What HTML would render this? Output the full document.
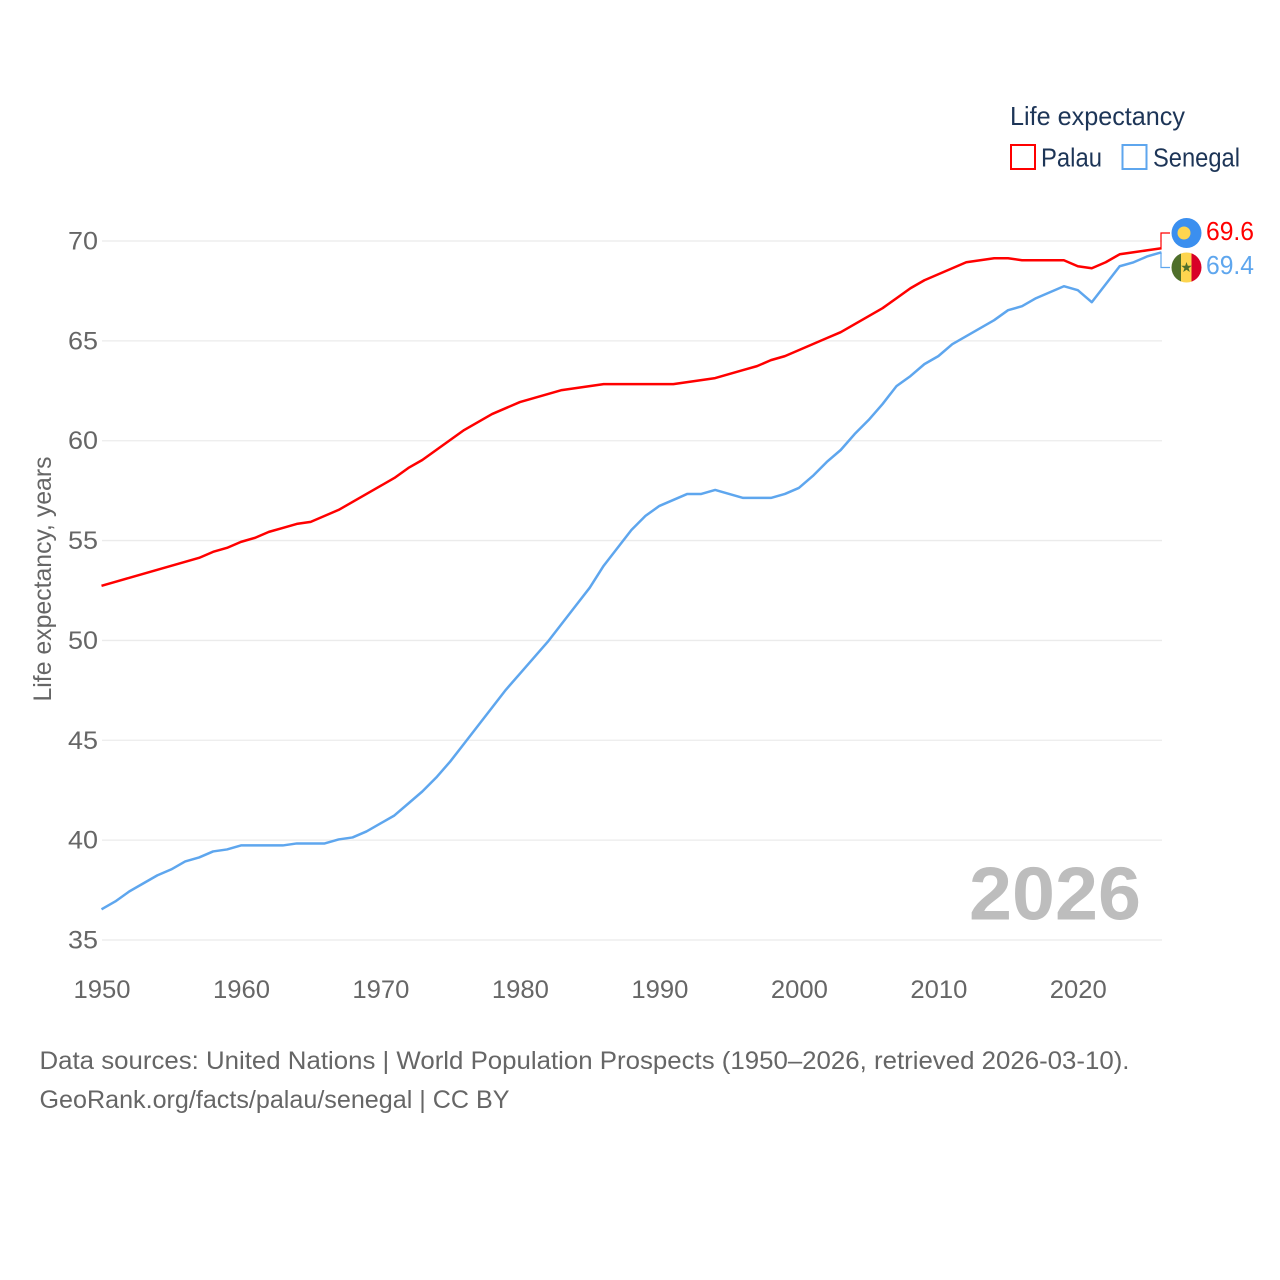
<!DOCTYPE html>
<html lang="en">
<head>
<meta charset="utf-8">
<title>Life expectancy: Palau and Senegal</title>
<style>
html,body{margin:0;padding:0;background:#fff;width:1280px;height:1280px;overflow:hidden}
svg{display:block}
text{font-family:"Liberation Sans",sans-serif}
</style>
</head>
<body>
<svg id="chart" xmlns="http://www.w3.org/2000/svg" width="1280" height="1280" viewBox="0 0 1280 1280">
  <g id="grid"></g>
  <g id="yticks"></g>
  <g id="xticks"></g>
  <text transform="translate(51,579) rotate(-90)" text-anchor="middle" font-size="25" fill="#666" textLength="245" lengthAdjust="spacingAndGlyphs">Life expectancy, years</text>
  <text x="969" y="919.500" font-size="75" font-weight="700" fill="#bdbdbd" textLength="172" lengthAdjust="spacingAndGlyphs">2026</text>
  <g id="series" transform="translate(-0.5,-0.7)"></g>
  <g id="ends"></g>

  <g>
    <text x="1010" y="125" font-size="26" fill="#1d3557" textLength="175" lengthAdjust="spacingAndGlyphs">Life expectancy</text>
    <rect x="1011" y="145" width="24" height="24" fill="none" stroke="#ff0000" stroke-width="2"/>
    <text x="1041" y="166.500" font-size="25.500" fill="#1d3557" textLength="61" lengthAdjust="spacingAndGlyphs">Palau</text>
    <rect x="1122.500" y="145" width="24" height="24" fill="none" stroke="#5ea6ee" stroke-width="2"/>
    <text x="1153" y="166.500" font-size="25.500" fill="#1d3557" textLength="87" lengthAdjust="spacingAndGlyphs">Senegal</text>
  </g>

  <g>
    <text x="39.500" y="1069" font-size="25" fill="#666" textLength="1090" lengthAdjust="spacingAndGlyphs">Data sources: United Nations | World Population Prospects (1950–2026, retrieved 2026-03-10).</text>
    <text x="39.500" y="1108" font-size="25" fill="#666" textLength="470" lengthAdjust="spacingAndGlyphs">GeoRank.org/facts/palau/senegal | CC BY</text>
  </g>

  <defs>
    <clipPath id="sn-clip"><circle cx="1186.500" cy="267.500" r="15"/></clipPath>
  </defs>
  <g>
    <circle cx="1186.500" cy="233" r="15" fill="#3b8fef"/>
    <circle cx="1184" cy="233" r="6.500" fill="#fdd54f"/>
  </g>
  <g clip-path="url(#sn-clip)">
    <rect x="1171" y="252" width="10.500" height="31" fill="#4f6f2b"/>
    <rect x="1181" y="252" width="11" height="31" fill="#fdd54f"/>
    <rect x="1191.500" y="252" width="11" height="31" fill="#d80027"/>
    <polygon points="1186.500,262 1187.800,265.800 1191.800,265.800 1188.600,268.200 1189.800,272 1186.500,269.700 1183.200,272 1184.400,268.200 1181.200,265.800 1185.200,265.800" fill="#4f6f2b"/>
  </g>

  <script>
    var years = [1950,1951,1952,1953,1954,1955,1956,1957,1958,1959,1960,1961,1962,1963,1964,1965,1966,1967,1968,1969,1970,1971,1972,1973,1974,1975,1976,1977,1978,1979,1980,1981,1982,1983,1984,1985,1986,1987,1988,1989,1990,1991,1992,1993,1994,1995,1996,1997,1998,1999,2000,2001,2002,2003,2004,2005,2006,2007,2008,2009,2010,2011,2012,2013,2014,2015,2016,2017,2018,2019,2020,2021,2022,2023,2024,2025,2026];
    var palauValues = [52.7,52.9,53.1,53.3,53.5,53.7,53.9,54.1,54.4,54.6,54.9,55.1,55.4,55.6,55.8,55.9,56.2,56.5,56.9,57.3,57.7,58.1,58.6,59.0,59.5,60.0,60.5,60.9,61.3,61.6,61.9,62.1,62.3,62.5,62.6,62.7,62.8,62.8,62.8,62.8,62.8,62.8,62.9,63.0,63.1,63.3,63.5,63.7,64.0,64.2,64.5,64.8,65.1,65.4,65.8,66.2,66.6,67.1,67.6,68.0,68.3,68.6,68.9,69.0,69.1,69.1,69.0,69.0,69.0,69.0,68.7,68.6,68.9,69.3,69.4,69.5,69.6];
    var senegalValues = [36.5,36.9,37.4,37.8,38.2,38.5,38.9,39.1,39.4,39.5,39.7,39.7,39.7,39.7,39.8,39.8,39.8,40.0,40.1,40.4,40.8,41.2,41.8,42.4,43.1,43.9,44.8,45.7,46.6,47.5,48.3,49.1,49.9,50.8,51.7,52.6,53.7,54.6,55.5,56.2,56.7,57.0,57.3,57.3,57.5,57.3,57.1,57.1,57.1,57.3,57.6,58.2,58.9,59.5,60.3,61.0,61.8,62.7,63.2,63.8,64.2,64.8,65.2,65.6,66.0,66.5,66.7,67.1,67.4,67.7,67.5,66.9,67.8,68.7,68.9,69.2,69.4];
    var yTickValues = [35,40,45,50,55,60,65,70];
    var xTickValues = [1950,1960,1970,1980,1990,2000,2010,2020];

    var NS = 'http://www.w3.org/2000/svg';
    function xScale(year) { return 102 + (year - 1950) * (1162 - 102) / (2026 - 1950); }
    function yScale(value) { return 940 - (value - 35) * (940 - 241) / (70 - 35); }
    function make(tag, attrs, parent) {
      var el = document.createElementNS(NS, tag);
      for (var k in attrs) { el.setAttribute(k, attrs[k]); }
      parent.appendChild(el);
      return el;
    }

    var gridGroup = document.getElementById('grid');
    var yGroup = document.getElementById('yticks');
    var xGroup = document.getElementById('xticks');
    var seriesGroup = document.getElementById('series');
    var endGroup = document.getElementById('ends');

    yTickValues.forEach(function (v) {
      var line = make('line', {x1: 102, x2: 1162, y1: yScale(v), y2: yScale(v), stroke: '#ebebeb', 'stroke-width': 1.3}, gridGroup);
      
      
      var label = make('text', {x: 98, y: yScale(v) + 8.5, 'text-anchor': 'end', 'font-size': 25, fill: '#666', textLength: 30, lengthAdjust: 'spacingAndGlyphs'}, yGroup);
      label.textContent = v;
      
      
    });

    xTickValues.forEach(function (y) {
      var label = make('text', {x: xScale(y), y: 998, 'text-anchor': 'middle', 'font-size': 25, fill: '#666', textLength: 57, lengthAdjust: 'spacingAndGlyphs'}, xGroup);
      label.textContent = y;
      
      
    });

    function linePoints(values) {
      return values.map(function (v, i) {
        return xScale(years[i]).toFixed(2) + ',' + yScale(v).toFixed(2);
      }).join(' ');
    }

    var palauLine = make('polyline', {points: linePoints(palauValues), fill: 'none', stroke: '#ff0000', 'stroke-width': 2.5, 'stroke-linejoin': 'round'}, seriesGroup);
    
    

    var senegalLine = make('polyline', {points: linePoints(senegalValues), fill: 'none', stroke: '#5ea6ee', 'stroke-width': 2.5, 'stroke-linejoin': 'round'}, seriesGroup);
    
    

    var lastIndex = years.length - 1;

    var palauConnector = make('polyline', {points: '1161,' + yScale(palauValues[lastIndex]) + ' 1161,233 1170,233', fill: 'none', stroke: '#ff0000', 'stroke-width': 1.2}, endGroup);
    
    

    var senegalConnector = make('polyline', {points: '1161,' + yScale(senegalValues[lastIndex]) + ' 1161,267.5 1170,267.5', fill: 'none', stroke: '#5ea6ee', 'stroke-width': 1.2}, endGroup);
    
    

    var palauEnd = make('text', {x: 1206, y: 240, 'font-size': 26, fill: '#ff0000', textLength: 48, lengthAdjust: 'spacingAndGlyphs'}, endGroup);
    palauEnd.textContent = palauValues[lastIndex].toFixed(1);
    
    

    var senegalEnd = make('text', {x: 1206, y: 274, 'font-size': 26, fill: '#5ea6ee', textLength: 48, lengthAdjust: 'spacingAndGlyphs'}, endGroup);
    senegalEnd.textContent = senegalValues[lastIndex].toFixed(1);
    
    
  </script>
</svg>
</body>
</html>
